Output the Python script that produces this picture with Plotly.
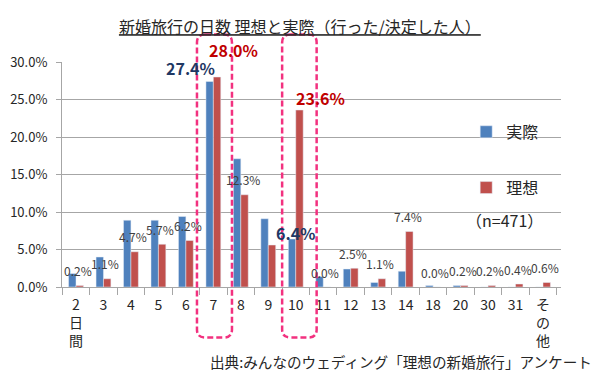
import plotly.graph_objects as go

categories = ["2<br>日<br>間", "3", "4", "5", "6", "7", "8", "9", "10", "11", "12", "13", "14",
              "18", "20", "30", "31", "そ<br>の<br>他"]
actual = [1.8, 4.0, 8.9, 8.9, 9.4, 27.4, 17.1, 9.1, 6.4, 1.4, 2.4, 0.6, 2.1, 0.2, 0.2, 0.0, 0.0, 0.0]
ideal = [0.2, 1.1, 4.7, 5.7, 6.2, 28.0, 12.3, 5.6, 23.6, 0.0, 2.5, 1.1, 7.4, 0.0, 0.2, 0.2, 0.4, 0.6]
small_label_idx = [0, 1, 2, 3, 4, 6, 9, 10, 11, 12, 13, 14, 15, 16, 17]
y_ticks = [0, 5, 10, 15, 20, 25, 30]

FONT = "Noto Sans CJK JP"
BLUE = "#4F81BD"
RED = "#C0504D"
NAVY = "#1F3864"
DRED = "#C00000"
PINK = "#F2317F"

fig = go.Figure()
fig.add_trace(go.Bar(x=categories, y=actual, name="実際", marker_color=BLUE,
                     legendgroup="a"))
fig.add_trace(go.Bar(x=categories, y=ideal, name="理想", marker_color=RED,
                     legendgroup="b"))

annotations = []
for i in small_label_idx:
    annotations.append(dict(x=i, y=ideal[i], xref="x", yref="y",
                            text=f"{ideal[i]:.1f}%", showarrow=False, xshift=2, yshift=15,
                            font=dict(family=FONT, size=12, color="#404040")))

# highlighted labels
annotations.append(dict(x=5, y=actual[5], text=f"<b>{actual[5]:.1f}%</b>",
                        showarrow=False, xshift=-23, yshift=14,
                        font=dict(family=FONT, size=16, color=NAVY)))
annotations.append(dict(x=5, y=ideal[5], text=f"<b>{ideal[5]:.1f}%</b>",
                        showarrow=False, xshift=20, yshift=27,
                        font=dict(family=FONT, size=16, color=DRED)))
annotations.append(dict(x=8, y=ideal[8], text=f"<b>{ideal[8]:.1f}%</b>",
                        showarrow=False, xshift=25, yshift=12,
                        font=dict(family=FONT, size=16, color=DRED)))
annotations.append(dict(x=8, y=actual[8], text=f"<b>{actual[8]:.1f}%</b>",
                        showarrow=False, xshift=0, yshift=6,
                        font=dict(family=FONT, size=16, color=NAVY)))

annotations.append(dict(x=0.968, y=0.2356, xref="paper", yref="paper", text="（n=471）",
                        showarrow=False, font=dict(family=FONT, size=16, color="#262626")))
annotations.append(dict(x=1.066, y=-0.387, xref="paper", yref="paper", xanchor="right",
                        text="出典:みんなのウェディング「理想の新婚旅行」アンケート",
                        showarrow=False, font=dict(family=FONT, size=14.6, color="#262626")))

# dashed rounded boxes (paper coordinates)
PW, PH = 499.0, 225.0
n = len(categories)


def rounded_box(idx, left, right, top_px, bottom_px, r=8):
    cx = (idx + 0.5) / n
    x0 = cx + left / PW
    x1 = cx + right / PW
    y1 = top_px / PH
    y0 = bottom_px / PH
    rx, ry = r / PW, r / PH
    return (f"M{x0+rx},{y1} L{x1-rx},{y1} Q{x1},{y1} {x1},{y1-ry} "
            f"L{x1},{y0+ry} Q{x1},{y0} {x1-rx},{y0} L{x0+rx},{y0} "
            f"Q{x0},{y0} {x0},{y0+ry} L{x0},{y1-ry} Q{x0},{y1} {x0+rx},{y1} Z")


shapes = [
    dict(type="path", xref="paper", yref="paper",
         path=rounded_box(5, -17.5, 17.5, 252.5, -50.5),
         line=dict(color=PINK, width=2.5, dash="6px,3px")),
    dict(type="path", xref="paper", yref="paper",
         path=rounded_box(8, -15.5, 19, 252.5, -50.5),
         line=dict(color=PINK, width=2.5, dash="6px,3px")),
]

# page body has an 8px default margin; figure is sized/offset to compensate
fig.update_layout(
    width=592, height=376,
    margin=dict(l=54, r=39, t=54, b=97, autoexpand=False),
    paper_bgcolor="white", plot_bgcolor="white",
    barmode="group", bargap=0.46, bargroupgap=0,
    font=dict(family=FONT, color="#404040"),
    title=dict(text="新婚旅行の日数 理想と実際（行った/決定した人）", x=0.493, xanchor="center",
               y=0.948, yanchor="middle",
               font=dict(family=FONT, size=16, color="#262626", lineposition="under")),
    legend=dict(x=0.81, xanchor="left", y=0.765, yanchor="top",
                font=dict(family=FONT, size=16, color="#262626"),
                tracegroupgap=32, bgcolor="rgba(0,0,0,0)", traceorder="grouped"),
    annotations=annotations,
    shapes=shapes,
    showlegend=True,
)
fig.update_xaxes(type="category", tickmode="array", tickvals=categories, ticktext=categories,
                 tickson="boundaries", ticks="outside", ticklen=7, automargin=False,
                 ticklabelstandoff=5,
                 tickcolor="#A6A6A6", showline=True, linecolor="#A6A6A6", linewidth=1,
                 tickfont=dict(family=FONT, size=14, color="#262626"), showgrid=False,
                 tickangle=0)
fig.update_yaxes(range=[0, 30], tickvals=y_ticks, ticktext=[f"{v:.1f}%" for v in y_ticks],
                 ticks="outside", ticklen=5, tickcolor="#A6A6A6", showline=True, automargin=False,
                 ticklabelstandoff=6,
                 linecolor="#A6A6A6", showgrid=True, gridcolor="#A6A6A6", gridwidth=1,
                 zeroline=False, tickfont=dict(family=FONT, size=13, color="#262626"))

fig.write_html("out.html")
